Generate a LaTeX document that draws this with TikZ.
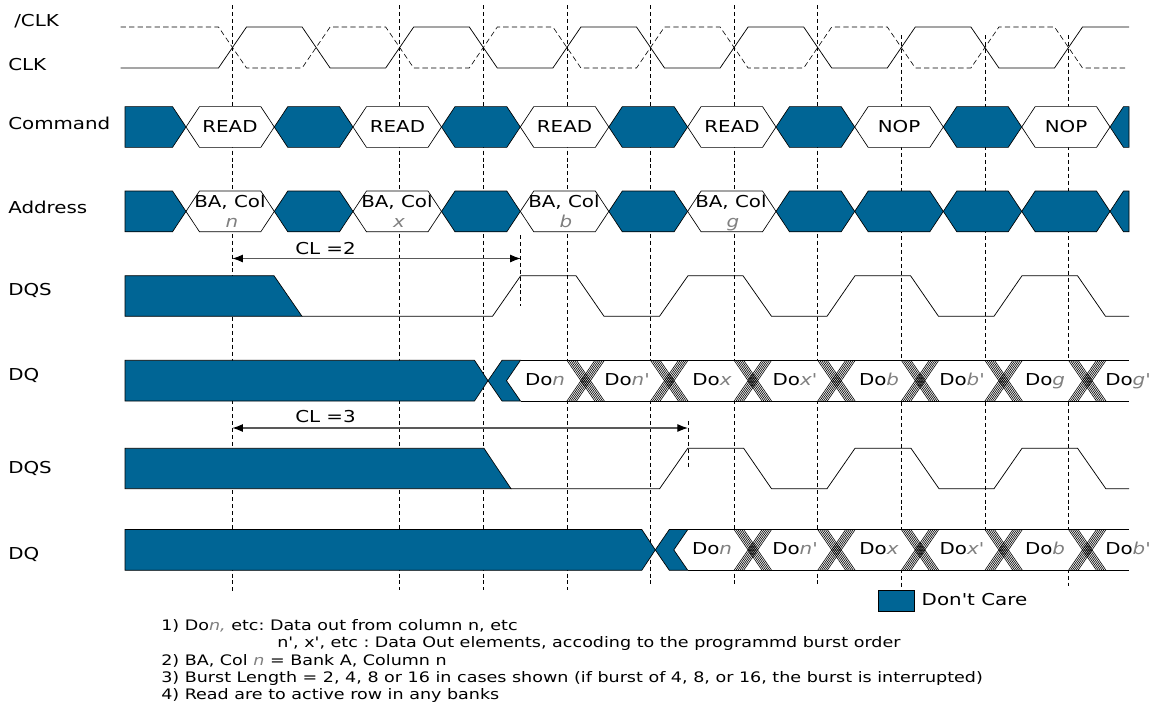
\documentclass[tikz,border=0pt]{standalone}
\usepackage{fontspec}
\setmainfont[FakeStretch=1.21,Ligatures=TeXOff]{DejaVu Sans}
\usetikzlibrary{arrows.meta,positioning}
\definecolor{dontcarecolor}{HTML}{006595}
\def \chevX {13.5}
\def \halfH {20.4}
\def \bandX {28}
\tikzset{
	signallabel/.style= {anchor=west, inner sep=0pt, text height=10pt, text depth=3pt, font=\fontsize{12.3pt}{13pt}\selectfont},
	celltext/.style= {inner sep=0pt, text height=10pt, text depth=3pt, font=\fontsize{12.3pt}{13pt}\selectfont},
	notetext/.style= {anchor=west, inner sep=0pt, text height=8pt, text depth=2pt, font=\fontsize{10.86pt}{11pt}\selectfont\frenchspacing},
	dontcareblock/.style= {draw=black, line width=0.5pt, fill=dontcarecolor},
	validblock/.style= {draw=black, line width=0.5pt, fill=white},
	waveline/.style= {draw=black, line width=0.55pt},
	guideline/.style= {draw=black, line width=0.55pt, dash pattern=on 3pt off 2.2pt},
	hatchline/.style= {draw=black, line width=0.45pt},
	lengtharrow/.style= {draw=black!65, line width=0.8pt, {Latex[length=8pt,width=6pt,black]}-{Latex[length=8pt,width=6pt,black]}},
	legendblock/.style= {draw=black, line width=0.6pt, fill=dontcarecolor, minimum width=27pt, minimum height=16pt, inner sep=0pt, anchor=north west}
}
% cell between two crossings: style, left x, right x, centre y
\def\hexcell#1#2#3#4{\draw [#1] (#2,#4) -- (#2+\chevX,#4-\halfH) -- (#3-\chevX,#4-\halfH) -- (#3,#4) -- (#3-\chevX,#4+\halfH) -- (#2+\chevX,#4+\halfH) -- cycle;}
% hatched crossing of the data bus: left x, centre y
\def\hatchcross#1#2{\foreach \i in {0,...,5} {
	\draw [hatchline] (#1+\i*1.9,#2-\halfH) -- (#1+\bandX+\i*1.9,#2+\halfH);
	\draw [hatchline] (#1+\bandX+\i*1.9,#2-\halfH) -- (#1+\i*1.9,#2+\halfH);
}}
\def\doval#1{Do{\color{gray}\itshape #1}}
\begin{document}
\begin{tikzpicture}[x=0.75pt,y=-0.75pt]
	\useasboundingbox (0,0) rectangle (1166,703);

%%%%%%%%%%%%%%%%%%%%% Guides %%%%%%%%%%%%%%%%%%%%%
	\draw [guideline] (232.3,5) -- (232.3,592);
	\draw [guideline] (399.7,5) -- (399.7,590);
	\draw [guideline] (483.3,5) -- (483.3,590);
	\draw [guideline] (566.9,5) -- (566.9,590);
	\draw [guideline] (650.5,5) -- (650.5,586);
	\draw [guideline] (734.1,5) -- (734.1,587);
	\draw [guideline] (817.7,5) -- (817.7,587);
	\draw [guideline] (901.3,35) -- (901.3,587);
	\draw [guideline] (984.9,35) -- (984.9,530);
	\draw [guideline] (1068.5,35) -- (1068.5,586);

%%%%%%%%%%%%%%%%%%%%% Clock %%%%%%%%%%%%%%%%%%%%%
	\node [signallabel] (clkbar) at (14,21.5) {/CLK};
	\node [signallabel] (clk) at (8,66) {CLK};
	\draw [waveline, dash pattern=on 4pt off 2.4pt, line width=0.45pt] (120.5,27) -- (218.5,27) -- (246.5,68) -- (302.1,68) -- (330.1,27) -- (385.7,27) -- (413.7,68) -- (469.3,68) -- (497.3,27) -- (552.9,27) -- (580.9,68) -- (636.5,68) -- (664.5,27) -- (720.1,27) -- (748.1,68) -- (803.7,68) -- (831.7,27) -- (887.3,27) -- (915.3,68) -- (970.9,68) -- (998.9,27) -- (1054.5,27) -- (1082.5,68) -- (1126,68);
	\draw [waveline] (120.5,68) -- (218.5,68) -- (246.5,27) -- (302.1,27) -- (330.1,68) -- (385.7,68) -- (413.7,27) -- (469.3,27) -- (497.3,68) -- (552.9,68) -- (580.9,27) -- (636.5,27) -- (664.5,68) -- (720.1,68) -- (748.1,27) -- (803.7,27) -- (831.7,68) -- (887.3,68) -- (915.3,27) -- (970.9,27) -- (998.9,68) -- (1054.5,68) -- (1082.5,27) -- (1129,27);

%%%%%%%%%%%%%%%%%%%%% Command %%%%%%%%%%%%%%%%%%%%%
	\node [signallabel] (command) at (8,124.5) {Command};
	\draw [dontcareblock] (125,106.6) -- (172.5,106.6) -- (186,127) -- (172.5,147.4) -- (125,147.4) -- cycle;
	\hexcell{validblock}{186}{274.3}{127}
	\hexcell{dontcareblock}{274.3}{353}{127}
	\hexcell{validblock}{353}{441.5}{127}
	\hexcell{dontcareblock}{441.5}{520.3}{127}
	\hexcell{validblock}{520.3}{608.8}{127}
	\hexcell{dontcareblock}{608.8}{687.6}{127}
	\hexcell{validblock}{687.6}{776}{127}
	\hexcell{dontcareblock}{776}{854.7}{127}
	\hexcell{validblock}{854.7}{943.3}{127}
	\hexcell{dontcareblock}{943.3}{1021.7}{127}
	\hexcell{validblock}{1021.7}{1110}{127}
	\draw [dontcareblock] (1110,127) -- (1123.5,106.6) -- (1129,106.6) -- (1129,147.4) -- (1123.5,147.4) -- cycle;
	\node [celltext] (read1) at (230,127.7) {READ};
	\node [celltext] (read2) at (397.5,127.7) {READ};
	\node [celltext] (read3) at (564.5,127.7) {READ};
	\node [celltext] (read4) at (732,127.7) {READ};
	\node [celltext] (nop1) at (899,127.7) {NOP};
	\node [celltext] (nop2) at (1066,127.7) {NOP};

%%%%%%%%%%%%%%%%%%%%% Address %%%%%%%%%%%%%%%%%%%%%
	\node [signallabel] (address) at (8,208.5) {Address};
	\hexcell{validblock}{186}{274.3}{211.4}
	\hexcell{validblock}{353}{441.5}{211.4}
	\hexcell{validblock}{520.3}{608.8}{211.4}
	\hexcell{validblock}{687.6}{776}{211.4}
	\node [celltext, anchor=west] (col1) at (194,202.7) {BA, Col};
	\node [celltext, anchor=west] (col2) at (361,202.7) {BA, Col};
	\node [celltext, anchor=west] (col3) at (528,202.7) {BA, Col};
	\node [celltext, anchor=west] (col4) at (695,202.7) {BA, Col};
	\node [celltext, text=gray] (coln) at (232,223) {\itshape n};
	\node [celltext, text=gray] (colx) at (399,223) {\itshape x};
	\node [celltext, text=gray] (colb) at (566,223) {\itshape b};
	\node [celltext, text=gray] (colg) at (733,223) {\itshape g};
	\draw [dontcareblock] (125,191) -- (172.5,191) -- (186,211.4) -- (172.5,231.8) -- (125,231.8) -- cycle;
	\hexcell{dontcareblock}{274.3}{353}{211.4}
	\hexcell{dontcareblock}{441.5}{520.3}{211.4}
	\hexcell{dontcareblock}{608.8}{687.6}{211.4}
	\hexcell{dontcareblock}{776}{854.7}{211.4}
	\hexcell{dontcareblock}{854.7}{943.3}{211.4}
	\hexcell{dontcareblock}{943.3}{1021.7}{211.4}
	\hexcell{dontcareblock}{1021.7}{1110}{211.4}
	\draw [dontcareblock] (1110,211.4) -- (1123.5,191) -- (1129,191) -- (1129,231.8) -- (1123.5,231.8) -- cycle;

%%%%%%%%%%%%%%%%%%%%% CL = 2 %%%%%%%%%%%%%%%%%%%%%
	\coordinate (cl2start) at (232.3,258.5);
	\coordinate (cl2end) at (520.7,258.5);
	\coordinate (cl2top) at (520.7,235);
	\coordinate (cl2bottom) at (520.7,306);
	\node [celltext] (cl2) at (325.5,250.3) {CL =2};
	\draw [guideline] (cl2top) -- (cl2bottom);
	\draw [lengtharrow] (cl2start) -- (cl2end);

%%%%%%%%%%%%%%%%%%%%% DQS and DQ, CL = 2 %%%%%%%%%%%%%%%%%%%%%
	\node [signallabel] (dqs1) at (8,290.5) {DQS};
	\draw [dontcareblock] (125,275.7) -- (274,275.7) -- (302,316.3) -- (125,316.3) -- cycle;
	\draw [waveline] (302,316.3) -- (492.5,316.3) -- (520.7,275.7) -- (576,275.7) -- (604,316.3) -- (659.5,316.3) -- (688,275.7) -- (743,275.7) -- (771.5,316.3) -- (827,316.3) -- (855,275.7) -- (910.5,275.7) -- (938.5,316.3) -- (994,316.3) -- (1022,275.7) -- (1077.5,275.7) -- (1105.5,316.3) -- (1129,316.3);

	\node [signallabel] (dq1) at (8,375.5) {DQ};
	\fill [white] (506.5,380.7) -- (520.5,360.3) -- (1129,360.3) -- (1129,401) -- (520.5,401) -- cycle;
	\draw [waveline] (520.5,360.3) -- (1129,360.3);
	\draw [waveline] (520.5,401) -- (1129,401);
	\draw [dontcareblock] (125,360.3) -- (474.5,360.3) -- (488,380.7) -- (474.5,401) -- (125,401) -- cycle;
	\draw [dontcareblock] (488,380.7) -- (502,360.3) -- (520.5,360.3) -- (506.5,380.7) -- (520.5,401) -- (502,401) -- cycle;
	\hatchcross{566.9}{380.7}
	\hatchcross{650.5}{380.7}
	\hatchcross{734.1}{380.7}
	\hatchcross{817.7}{380.7}
	\hatchcross{901.3}{380.7}
	\hatchcross{984.9}{380.7}
	\hatchcross{1068.5}{380.7}
	\node [celltext] (dq1n) at (545,381) {\doval{n}};
	\node [celltext] (dq1np) at (627,381) {\doval{n'}};
	\node [celltext] (dq1x) at (712,381) {\doval{x}};
	\node [celltext] (dq1xp) at (795,381) {\doval{x'}};
	\node [celltext] (dq1b) at (879,381) {\doval{b}};
	\node [celltext] (dq1bp) at (962,381) {\doval{b'}};
	\node [celltext] (dq1g) at (1045,381) {\doval{g}};
	\node [celltext] (dq1gp) at (1128,381) {\doval{g'}};

%%%%%%%%%%%%%%%%%%%%% CL = 3 %%%%%%%%%%%%%%%%%%%%%
	\coordinate (cl3start) at (232.3,428);
	\coordinate (cl3end) at (688,428);
	\coordinate (cl3top) at (688,421);
	\coordinate (cl3bottom) at (688,467);
	\node [celltext] (cl3) at (325.5,418) {CL =3};
	\draw [guideline] (cl3top) -- (cl3bottom);
	\draw [lengtharrow] (cl3start) -- (cl3end);

%%%%%%%%%%%%%%%%%%%%% DQS and DQ, CL = 3 %%%%%%%%%%%%%%%%%%%%%
	\node [signallabel] (dqs2) at (8,468.5) {DQS};
	\draw [dontcareblock] (125,448.3) -- (484,448.3) -- (511,488.7) -- (125,488.7) -- cycle;
	\draw [waveline] (511,488.7) -- (659.6,488.7) -- (687.7,448.3) -- (743.7,448.3) -- (771.5,488.7) -- (827,488.7) -- (855,448.3) -- (911,448.3) -- (939,488.7) -- (994,488.7) -- (1022,448.3) -- (1077.6,448.3) -- (1105.8,488.7) -- (1129,488.7);

	\node [signallabel] (dq2) at (8,554.5) {DQ};
	\fill [white] (673.8,549.9) -- (687.8,529.5) -- (1129,529.5) -- (1129,570.3) -- (687.8,570.3) -- cycle;
	\draw [waveline] (687.8,529.5) -- (1129,529.5);
	\draw [waveline] (687.8,570.3) -- (1129,570.3);
	\draw [dontcareblock] (125,529.5) -- (641.8,529.5) -- (655.3,549.9) -- (641.8,570.3) -- (125,570.3) -- cycle;
	\draw [dontcareblock] (655.3,549.9) -- (669.3,529.5) -- (687.8,529.5) -- (673.8,549.9) -- (687.8,570.3) -- (669.3,570.3) -- cycle;
	\hatchcross{734.1}{549.9}
	\hatchcross{817.7}{549.9}
	\hatchcross{901.3}{549.9}
	\hatchcross{984.9}{549.9}
	\hatchcross{1068.5}{549.9}
	\node [celltext] (dq2n) at (712,550.2) {\doval{n}};
	\node [celltext] (dq2np) at (795,550.2) {\doval{n'}};
	\node [celltext] (dq2x) at (879,550.2) {\doval{x}};
	\node [celltext] (dq2xp) at (962,550.2) {\doval{x'}};
	\node [celltext] (dq2b) at (1045,550.2) {\doval{b}};
	\node [celltext] (dq2bp) at (1128,550.2) {\doval{b'}};

%%%%%%%%%%%%%%%%%%%%% Legend and notes %%%%%%%%%%%%%%%%%%%%%
	\node [legendblock] (legend) at (878,590) {};
	\node [signallabel, right =5pt of legend] (legendtext) {Don't Care};

	\node [notetext] (note1) at (161,626) {1) Do{\color{gray}\itshape n,} etc: Data out from column n, etc};
	\node [notetext] (note1b) at (277,643) {n', x', etc : Data Out elements, accoding to the programmd burst order};
	\node [notetext] (note2) at (161,661) {2) BA, Col {\color{gray}\itshape n} = Bank A, Column n};
	\node [notetext] (note3) at (161,678) {3) Burst Length = 2, 4, 8 or 16 in cases shown (if burst of 4, 8, or 16, the burst is interrupted)};
	\node [notetext] (note4) at (161,695) {4) Read are to active row in any banks};
\end{tikzpicture}
\end{document}
